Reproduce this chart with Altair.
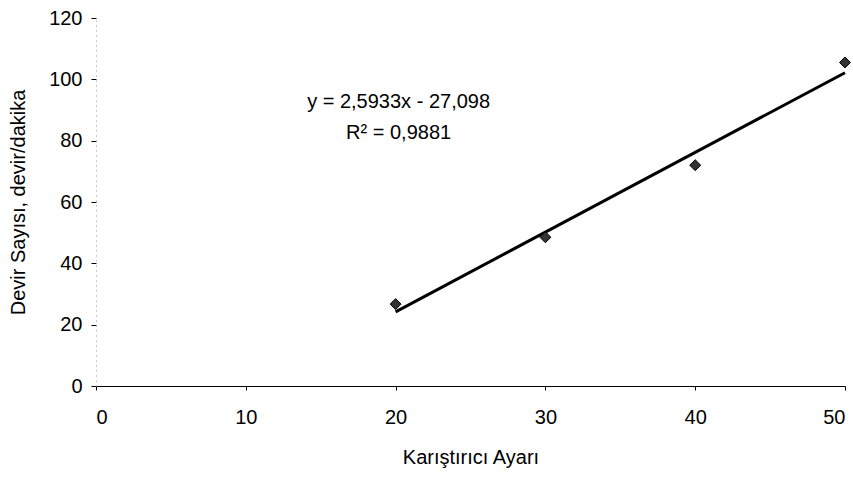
import altair as alt
import pandas as pd

setting = [20, 30, 40, 50]
rpm = [26.7, 48.5, 72.0, 105.5]
eq_lines = ["y = 2,5933x - 27,098", "R² = 0,9881"]
eq_x = [20.2, 20.2]
eq_y = [92.6, 82.5]

df = pd.DataFrame({"x": setting, "y": rpm})
tdf = pd.DataFrame({"t": eq_lines, "x": eq_x, "y": eq_y})

FONT = "Liberation Sans"
FS = 20

xs = alt.Scale(domain=[0, 50], nice=False)
ys = alt.Scale(domain=[0, 120], nice=False)

line = alt.Chart(df).transform_regression("x", "y").mark_line(
    color="black", strokeWidth=3
).encode(
    x=alt.X("x:Q", scale=xs, title="Karıştırıcı Ayarı",
            axis=alt.Axis(values=[0, 10, 20, 30, 40, 50], grid=False,
                          domainColor="black", domainWidth=1,
                          tickColor="black", tickSize=4,
                          labelFont=FONT, labelFontSize=FS, labelColor="black",
                          labelPadding=17, titleFont=FONT, titleFontSize=FS,
                          titleFontWeight="normal", titleColor="black",
                          titlePadding=20)),
    y=alt.Y("y:Q", scale=ys, title="Devir Sayısı, devir/dakika",
            axis=alt.Axis(values=[0, 20, 40, 60, 80, 100, 120], grid=False,
                          domainColor="#999999", domainDash=[1, 4],
                          tickColor="black", tickSize=5,
                          labelFont=FONT, labelFontSize=FS, labelColor="black",
                          labelPadding=9, titleFont=FONT, titleFontSize=FS,
                          titleFontWeight="normal", titleColor="black",
                          titlePadding=20)),
)

pts = alt.Chart(df).mark_point(
    shape="diamond", filled=True, color="#333333", stroke="black",
    strokeWidth=1, size=120, opacity=1
).encode(x=alt.X("x:Q", scale=xs), y=alt.Y("y:Q", scale=ys))

txt = alt.Chart(tdf).mark_text(
    font=FONT, fontSize=FS, color="black", align="center"
).encode(x=alt.X("x:Q", scale=xs), y=alt.Y("y:Q", scale=ys), text="t:N")

chart = alt.layer(line, pts, txt).properties(
    width=749, height=368,
    autosize=alt.AutoSizeParams(type="none"),
    padding={"left": 96, "top": 18, "right": 8, "bottom": 91},
).configure_view(stroke=None)

chart.save("out.html", embed_options={"renderer": "svg", "actions": False})
